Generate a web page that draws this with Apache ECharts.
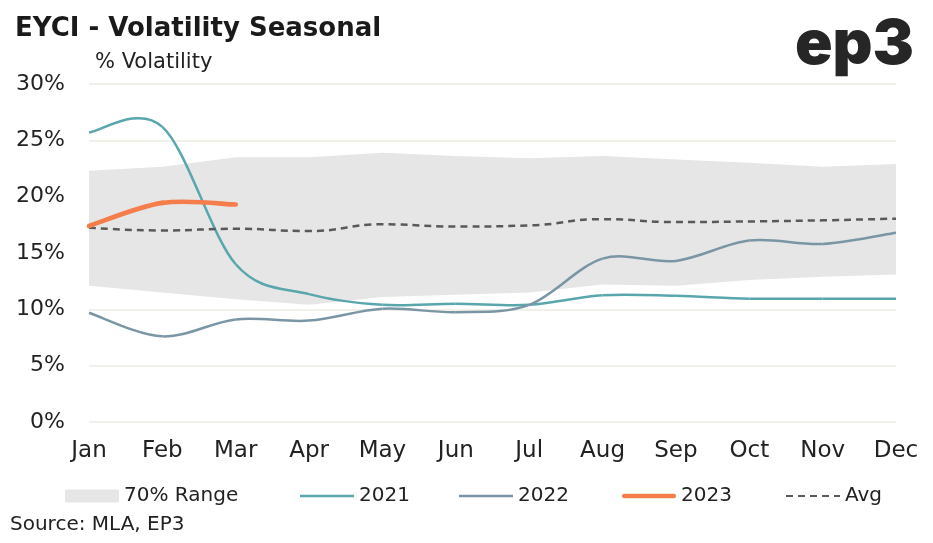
<!DOCTYPE html>
<html>
<head>
<meta charset="utf-8">
<script src="https://cdn.jsdelivr.net/npm/echarts@6/dist/echarts.min.js"></script>
<style>
html,body{margin:0;padding:0;background:#fff;}
#c{width:933px;height:543px;}
</style>
</head>
<body>
<div id="c"></div>
<script>
const months = ['Jan','Feb','Mar','Apr','May','Jun','Jul','Aug','Sep','Oct','Nov','Dec'];
const rangeLow  = [12.1, 11.5, 10.9, 10.4, 11.1, 11.3, 11.5, 12.2, 12.1, 12.6, 12.9, 13.1];
const rangeHigh = [22.3, 22.65, 23.5, 23.5, 23.9, 23.6, 23.4, 23.6, 23.3, 23.0, 22.65, 22.9];
const avg   = [17.25, 17.0, 17.15, 16.95, 17.55, 17.35, 17.45, 18.0, 17.75, 17.8, 17.9, 18.05];
const y2021 = [25.7, 26.2, 14.0, 11.35, 10.4, 10.5, 10.4, 11.25, 11.2, 10.95, 10.95, 10.95];
const y2022 = [9.7, 7.6, 9.1, 9.0, 10.05, 9.75, 10.4, 14.5, 14.3, 16.1, 15.8, 16.8];
const y2023 = [17.4, 19.45, 19.3];

const FONT = 'DejaVu Sans';
const TXT = '#222222';
const C2021 = '#5aa6ad', C2022 = '#7a96a5', C2023 = '#f47d4b', CAVG = '#595959', CBAND = '#e6e6e6';
const rangeSpan = rangeHigh.map((v, i) => +(v - rangeLow[i]).toFixed(2));

// Smooth (Catmull-Rom style) line drawn through the chart's own coordinate system
function smoothLine(vals, color, width, cap) {
  return function (params, api) {
    if (params.dataIndex !== 0) return null;
    const pts = vals.map((v, i) => api.coord([i, v]));
    const children = [];
    for (let i = 0; i < pts.length - 1; i++) {
      const p0 = pts[i - 1] || pts[i], p1 = pts[i], p2 = pts[i + 1], p3 = pts[i + 2] || pts[i + 1];
      children.push({
        type: 'bezierCurve',
        shape: {
          x1: p1[0], y1: p1[1], x2: p2[0], y2: p2[1],
          cpx1: p1[0] + (p2[0] - p0[0]) / 6, cpy1: p1[1] + (p2[1] - p0[1]) / 6,
          cpx2: p2[0] - (p3[0] - p1[0]) / 6, cpy2: p2[1] - (p3[1] - p1[1]) / 6
        },
        style: {stroke: color, lineWidth: width, fill: null, lineCap: cap || 'butt'}
      });
    }
    return {type: 'group', children};
  };
}
const toPairs = vals => vals.map((v, i) => [i, v]);

const legendBase = {
  top: 486, padding: 0, itemWidth: 54, itemHeight: 13, itemGap: 10,
  textStyle: {fontFamily: FONT, fontSize: 20, color: TXT}
};

const chart = echarts.init(document.getElementById('c'), null, {renderer: 'canvas'});
chart.setOption({
  animation: false,
  backgroundColor: '#ffffff',
  textStyle: {fontFamily: FONT, color: TXT},
  title: {
    text: 'EYCI - Volatility Seasonal',
    left: 10, top: 11,
    textStyle: {fontFamily: 'DejaVu Sans', fontWeight: 'bold', fontSize: 26, color: '#1a1a1a'}
  },
  graphic: [
    {type: 'text', left: 795, top: 14,
     style: {text: 'ep3', fontFamily: 'Inter', fontWeight: 900, fontSize: 62, fill: '#262626'}},
    {type: 'text', left: 10, top: 515,
     style: {text: 'Source: MLA, EP3', fontFamily: FONT, fontSize: 20, fill: TXT}}
  ],
  grid: {left: 89, right: 37, top: 84, bottom: 121, containLabel: false},
  legend: [
    Object.assign({}, legendBase, {left: 65, data: [{name: '70% Range', icon: 'rect', itemStyle: {color: CBAND}}]}),
    Object.assign({}, legendBase, {left: 300, data: [{name: '2021', icon: 'path://M0,0H54V2.6H0Z'}]}),
    Object.assign({}, legendBase, {left: 459, data: [{name: '2022', icon: 'path://M0,0H54V2.6H0Z'}]}),
    Object.assign({}, legendBase, {left: 622, data: [{name: '2023', icon: 'path://M2.3,0H51.7A2.3,2.3 0 0 1 51.7,4.6H2.3A2.3,2.3 0 0 1 2.3,0Z'}]}),
    Object.assign({}, legendBase, {left: 785, itemStyle: {opacity: 0}, data: ['Avg']})
  ],
  xAxis: {
    type: 'category', data: months, boundaryGap: false,
    axisLine: {show: false}, axisTick: {show: false},
    axisLabel: {fontFamily: FONT, fontSize: 23, color: TXT, margin: 18}
  },
  yAxis: {
    type: 'value', min: 0, max: 30, interval: 5,
    name: '% Volatility',
    nameLocation: 'end', nameGap: 11,
    nameTextStyle: {fontFamily: FONT, fontSize: 21, color: TXT, align: 'left', padding: [0, 0, 0, 6]},
    axisLine: {show: false}, axisTick: {show: false},
    axisLabel: {fontFamily: FONT, fontSize: 22, color: TXT, margin: 24, formatter: '{value}%'},
    splitLine: {lineStyle: {color: '#ecece2', width: 1.5}}
  },
  series: [
    {name: 'rangeBase', type: 'line', stack: 'band', data: rangeLow, symbol: 'none',
     lineStyle: {opacity: 0}, areaStyle: {opacity: 0}, silent: true, z: 1},
    {name: '70% Range', type: 'line', stack: 'band', data: rangeSpan, symbol: 'none',
     itemStyle: {color: CBAND},
     lineStyle: {opacity: 0, width: 0}, areaStyle: {color: CBAND, opacity: 1}, silent: true, z: 1},
    {name: '2021', type: 'custom', coordinateSystem: 'cartesian2d', data: toPairs(y2021),
     encode: {x: 0, y: 1}, itemStyle: {color: C2021}, renderItem: smoothLine(y2021, C2021, 2.5), z: 3, clip: false},
    {name: '2022', type: 'custom', coordinateSystem: 'cartesian2d', data: toPairs(y2022),
     encode: {x: 0, y: 1}, itemStyle: {color: C2022}, renderItem: smoothLine(y2022, C2022, 2.5), z: 3, clip: false},
    {name: '2023', type: 'custom', coordinateSystem: 'cartesian2d', data: toPairs(y2023),
     encode: {x: 0, y: 1}, itemStyle: {color: C2023}, renderItem: smoothLine(y2023, C2023, 4.6, 'round'), z: 4, clip: false},
    {name: 'Avg', type: 'line', data: avg, symbol: 'none', smooth: 0.5,
     itemStyle: {color: CAVG}, lineStyle: {color: CAVG, width: 2.5, type: [7, 5]}, z: 3}
  ]
});
</script>
</body>
</html>
